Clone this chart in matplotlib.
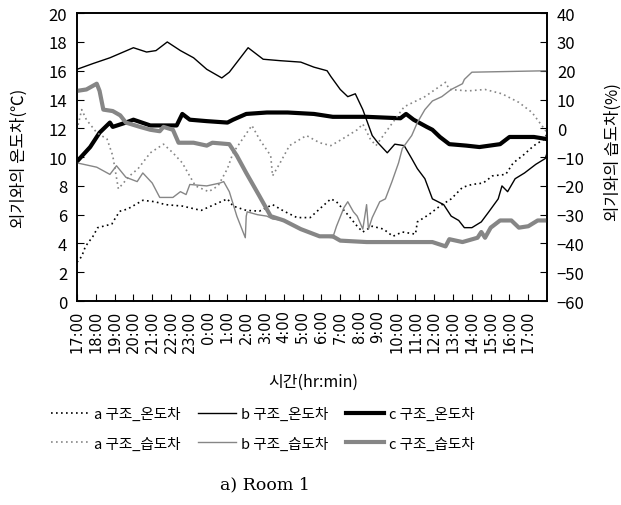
import numpy as np
import matplotlib
matplotlib.use("Agg")
import matplotlib.pyplot as plt

plt.rcParams['font.family'] = ['Noto Sans CJK KR', 'DejaVu Sans']

# hours elapsed since 17:00
hour_labels = ["17:00", "18:00", "19:00", "20:00", "21:00", "22:00", "23:00",
               "0:00", "1:00", "2:00", "3:00", "4:00", "5:00", "6:00", "7:00",
               "8:00", "9:00", "10:00", "11:00", "12:00", "13:00", "14:00",
               "15:00", "16:00", "17:00"]

# temperature difference (left axis, deg C)
a_temp_h = [0, 0.25, 0.45, 0.85, 1.1, 1.85, 2.1, 2.3, 2.7, 3.5, 4.15, 4.7, 5.6, 6.6, 7.3, 8.0,
            8.3, 9.0, 9.7, 10.4, 11.0, 11.7, 12.4, 12.9, 13.5, 13.8, 14.4, 14.9, 15.2, 15.7,
            16.3, 16.8, 17.3, 18.0, 18.1, 18.7, 19.3, 19.9, 20.5, 21.0, 21.6, 22.1, 22.8,
            23.2, 23.7, 24.3, 24.9, 25]
a_temp = [2.7, 3.1, 3.8, 4.5, 5.1, 5.35, 5.9, 6.25, 6.4, 7.0, 6.9, 6.7, 6.6, 6.3, 6.7, 7.1,
          6.6, 6.3, 6.25, 6.7, 6.25, 5.8, 5.8, 6.4, 7.1, 6.9, 6.0, 5.2, 4.8, 5.2,
          5.0, 4.5, 4.8, 4.65, 5.5, 6.0, 6.6, 7.1, 7.9, 8.1, 8.2, 8.7, 8.8,
          9.6, 10.1, 10.8, 11.3, 11.7]

b_temp_h = [0, 0.85, 1.75, 3.0, 3.7, 4.2, 4.8, 5.5, 6.2, 6.9, 7.7, 8.1, 9.1, 9.9, 10.8, 11.9,
            12.6, 13.3, 13.5, 14.0, 14.4, 14.8, 15.2, 15.7, 16.0, 16.5, 16.9, 17.4, 17.8,
            18.1, 18.5, 18.9, 19.5, 19.9, 20.3, 20.6, 21.0, 21.5, 21.9, 22.4, 22.6, 22.9,
            23.3, 23.8, 24.4, 24.9, 25]
b_temp = [16.1, 16.5, 16.9, 17.6, 17.3, 17.4, 18.0, 17.4, 16.9, 16.1, 15.5, 15.9, 17.6, 16.8,
          16.7, 16.6, 16.25, 16.0, 15.6, 14.7, 14.2, 14.4, 13.3, 11.5, 11.0, 10.3, 10.9,
          10.8, 9.9, 9.2, 8.5, 7.1, 6.7, 5.9, 5.6, 5.1, 5.1, 5.5, 6.2, 7.1, 8.0, 7.6,
          8.5, 8.9, 9.5, 9.9, 10.3]

c_temp_h = [0, 0.7, 1.2, 1.75, 1.9, 2.6, 3.0, 3.9, 5.3, 5.6, 6.0, 6.9, 8.0, 8.3, 9.0, 10.1,
            11.2, 12.6, 13.6, 15.4, 17.2, 17.5, 17.9, 18.6, 18.9, 19.3, 19.8, 20.7, 21.4,
            22.5, 23.0, 24.3, 25]
c_temp = [9.7, 10.7, 11.7, 12.4, 12.1, 12.4, 12.6, 12.2, 12.2, 13.0, 12.6, 12.5, 12.4, 12.6,
          13.0, 13.1, 13.1, 13.0, 12.8, 12.8, 12.7, 13.0, 12.6, 12.1, 11.9, 11.4, 10.9,
          10.8, 10.7, 10.9, 11.4, 11.4, 11.25]

# humidity difference (right axis, %)
a_hum_h = [0, 0.25, 0.5, 1.05, 1.6, 1.9, 2.2, 2.8, 3.25, 3.9, 4.6, 5.1, 5.6, 5.9, 6.3, 7.0,
           7.5, 8.0, 8.3, 8.8, 9.3, 9.7, 10.3, 10.4, 10.8, 11.3, 12.2, 12.9, 13.5, 14.1,
           14.9, 15.2, 15.6, 15.9, 16.4, 17.4, 18.5, 19.6, 19.8, 20.8, 21.7, 22.6, 23.5,
           24.2, 24.6, 25]
a_hum = [-0.5, 6.5, 3, -1.5, -3.75, -9.5, -21, -16.5, -14, -8.5, -5.5, -8.5, -12, -15.5,
         -20, -22, -20, -14, -8.5, -3.75, 1, -3.75, -9.5, -16.5, -12, -6, -2.5, -5, -6,
         -3.75, -0.5, 1.5, -3.75, -6, -1.5, 7.5, 11, 16, 13.5, 13, 13.5, 12, 9, 5.5, 2, -1.5]

b_hum_h = [0, 1.05, 1.75, 2.1, 2.6, 3.2, 3.5, 4.0, 4.4, 5.1, 5.5, 5.8, 6.0, 6.9, 7.6, 7.8,
           8.1, 8.5, 8.95, 9.0, 9.05, 9.6, 10.1, 10.4, 11.0, 11.9, 12.9, 13.6, 13.8, 14.2,
           14.4, 14.7, 14.9, 15.2, 15.4, 15.5, 15.7, 16.1, 16.4, 16.75, 17.1, 17.3, 17.8,
           18.1, 18.5, 18.9, 19.4, 19.9, 20.5, 20.6, 21.0, 25]
b_hum = [-12, -13.5, -16, -13, -17, -18.5, -15.5, -19, -24, -24, -22, -23, -19.5, -20, -19,
         -18.5, -22, -30.5, -38, -30.5, -29, -30, -30.5, -31.5, -32, -35, -37.5, -38, -34,
         -27.5, -25.5, -29, -30.5, -35, -26.5, -35, -31, -25.5, -24.5, -18.5, -12, -7,
         -2.5, 2, 6.5, 9.5, 11, 13.5, 15.5, 17, 19.5, 20]

c_hum_h = [0, 0.5, 1.05, 1.2, 1.4, 1.9, 2.3, 2.6, 3.35, 3.9, 4.4, 4.6, 5.1, 5.4, 6.2, 6.9,
           7.2, 8.1, 8.5, 9.0, 9.7, 10.3, 11.0, 11.9, 12.9, 13.6, 14.0, 15.4, 17.2, 18.9,
           19.6, 19.8, 20.5, 21.3, 21.5, 21.7, 22.0, 22.5, 23.1, 23.5, 24.0, 24.5, 25]
c_hum = [13, 13.5, 15.5, 13, 6.5, 6, 4.5, 2, 0.5, -0.5, -1, 0.5, -0.5, -5, -5, -6, -5,
         -5.5, -9.5, -15.5, -23.5, -30.5, -32, -35, -37.5, -37.5, -39, -39.5, -39.5, -39.5,
         -41, -38.5, -39.5, -38, -36, -38, -34.5, -32, -32, -34.5, -34, -32, -32]

gray = '#868686'
dots = (0, (1, 2))

fig = plt.figure(figsize=(6.21, 5.06), dpi=100)
ax = fig.add_axes([0.124, 0.403, 0.757, 0.569])
ax2 = ax.twinx()

l_at, = ax.plot(a_temp_h, a_temp, color='black', lw=1.2, ls=dots)
l_bt, = ax.plot(b_temp_h, b_temp, color='black', lw=1.0)
l_ct, = ax.plot(c_temp_h, c_temp, color='black', lw=3.0)
l_ah, = ax2.plot(a_hum_h, a_hum, color=gray, lw=1.2, ls=dots)
l_bh, = ax2.plot(b_hum_h, b_hum, color=gray, lw=1.0)
l_ch, = ax2.plot(c_hum_h, c_hum, color=gray, lw=3.0)

ax.set_xlim(0, 25)
ax.set_ylim(0, 20)
ax2.set_ylim(-60, 40)
ax.set_xticks(range(len(hour_labels)))
ax.set_xticklabels(hour_labels, rotation=90, fontsize=10.5, family=['DejaVu Sans'])
ax.set_yticks(range(0, 21, 2))
ax2.set_yticks(range(-60, 41, 10))
ax.tick_params(axis='x', direction='in', length=5, pad=6)
ax.tick_params(axis='y', direction='in', length=5, pad=7, labelsize=12)
ax2.tick_params(axis='y', direction='in', length=5, pad=7, labelsize=12)
for a in (ax, ax2):
    for s in a.spines.values():
        s.set_linewidth(1.2)

ax.set_ylabel('외기와의 온도차(℃)', fontsize=12)
ax.yaxis.set_label_coords(-0.104, 0.5)
ax2.set_ylabel('외기와의 습도차(%)', fontsize=12, rotation=90)
ax2.yaxis.set_label_coords(1.122, 0.52)
ax.set_xlabel('시간(hr:min)', fontsize=11.5)
ax.xaxis.set_label_coords(0.502, -0.25)

handles = [l_at, l_ah, l_bt, l_bh, l_ct, l_ch]
labels = ['a 구조_온도차', 'a 구조_습도차', 'b 구조_온도차', 'b 구조_습도차',
          'c 구조_온도차', 'c 구조_습도차']
fig.legend(handles, labels, ncol=3, loc='center', bbox_to_anchor=(0.4235, 0.151),
           frameon=False, fontsize=10.5, handlelength=2.6, handletextpad=0.35,
           columnspacing=1.2, labelspacing=1.05)

fig.text(0.427, 0.041, 'a) Room 1', ha='center', va='center', fontsize=12.5,
         family='DejaVu Serif')

fig.savefig('out.png', dpi=100)
